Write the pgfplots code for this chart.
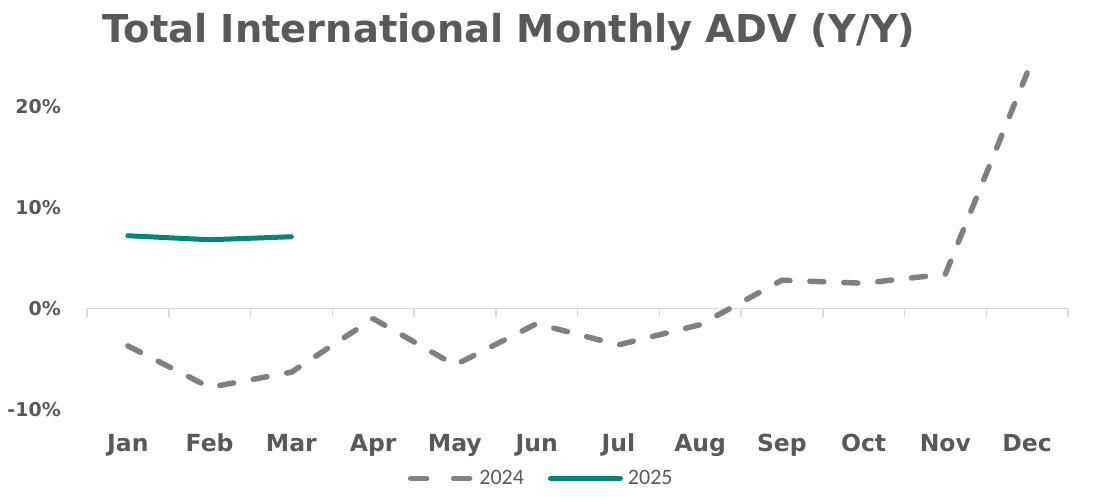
\documentclass[border=0pt]{standalone}
\usepackage{pgfplots}
\pgfplotsset{compat=1.18}
\usepackage{fontspec}
\setmainfont{DejaVu Sans}
\newfontfamily\legfont{Carlito}
\definecolor{txt}{HTML}{595959}
\definecolor{gline}{HTML}{808080}
\definecolor{tealc}{HTML}{00857C}
\definecolor{axl}{HTML}{D9D9D9}
\pgfplotsset{
  leg24/.style={legend image code/.code={\draw[##1, dash pattern=on 16bp off 27bp] (0bp,0bp) -- (61bp,0bp);}},
  leg25/.style={legend image code/.code={\draw[##1] (0bp,0bp) -- (70bp,0bp);}},
}
\begin{document}
\begin{tikzpicture}
\path (0,0) rectangle (1102bp,498bp);
\node[anchor=base, text=txt, font=\fontsize{38.4bp}{44bp}\selectfont\bfseries, inner sep=0pt] at (509bp,{(498-42.7)*1bp}) {Total International Monthly ADV (Y/Y)};
\begin{axis}[
  at={(87bp,88.4bp)}, anchor=south west,
  scale only axis, width=981bp, height=343.7bp,
  xmin=-0.5, xmax=11.5, ymin=-10, ymax=24,
  clip=false,
  axis line style={draw=none},
  xtick={0,...,11},
  xticklabels={Jan,Feb,Mar,Apr,May,Jun,Jul,Aug,Sep,Oct,Nov,Dec},
  ytick={-10,0,10,20},
  yticklabels={-10\%,0\%,10\%,20\%},
  major tick length=0pt,
  xticklabel style={font=\fontsize{23.5bp}{27bp}\selectfont\bfseries, text=txt, anchor=base, inner sep=0pt, yshift=-41.4bp},
  yticklabel style={font=\fontsize{19bp}{23bp}\selectfont\bfseries, text=txt, anchor=east, inner sep=0pt, xshift=-26bp},
  legend style={at={(0.463,-0.2)}, anchor=center, draw=none, fill=none, legend columns=2,
    font=\legfont\fontsize{22bp}{26bp}\selectfont, text=txt,
    /tikz/every even column/.append style={column sep=22bp},
    /tikz/every odd column/.append style={column sep=3bp}},
  legend cell align=left,
]
\draw[axl, line width=1.5bp] (axis cs:-0.5,0) -- (axis cs:11.5,0);
\pgfplotsinvokeforeach{-0.5,0.5,...,11.5}{ \draw[axl, line width=1.5bp] (axis cs:#1,0) -- ([yshift=-8bp]axis cs:#1,0); }
\addplot[gline, line width=5.5bp, line cap=round, line join=round, dash pattern=on 14bp off 20bp, leg24]
  coordinates {(0,-3.7) (1,-7.8) (2,-6.3) (3,-1.0) (4,-5.6) (5,-1.5) (6,-3.6) (7,-1.6) (8,2.8) (9,2.5) (10,3.4) (11,23.3)};
\addlegendentry{2024}
\addplot[tealc, line width=5bp, line cap=round, line join=round, leg25]
  coordinates {(0,7.2) (1,6.8) (2,7.1)};
\addlegendentry{2025}
\end{axis}
\end{tikzpicture}
\end{document}
